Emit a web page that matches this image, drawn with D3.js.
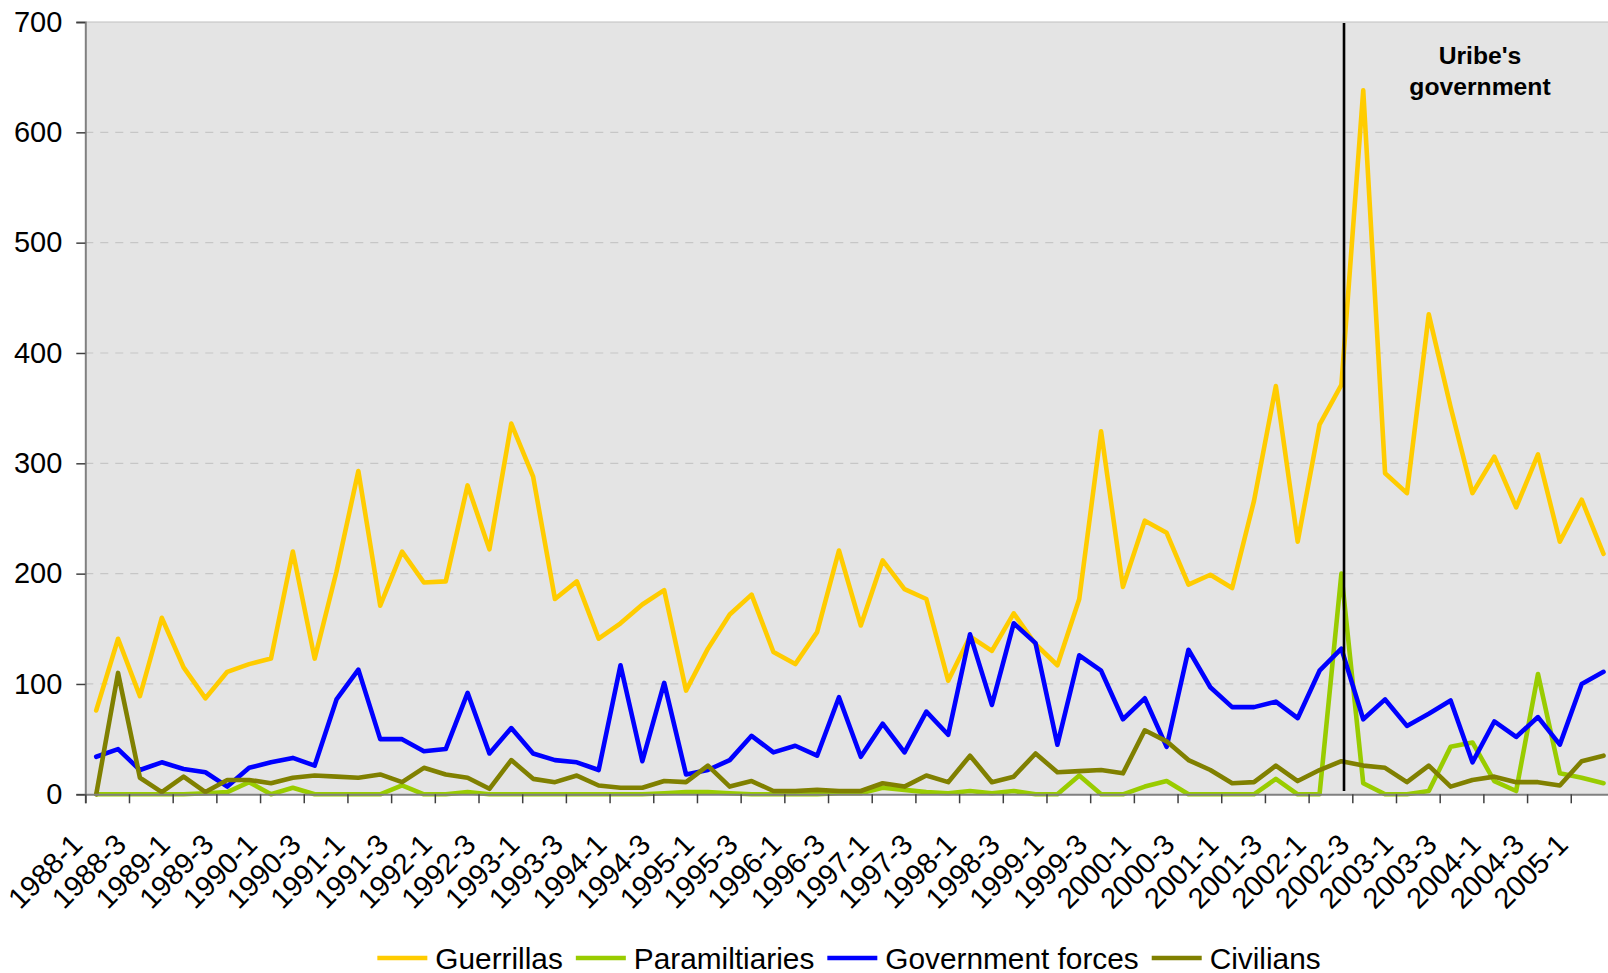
<!DOCTYPE html>
<html>
<head>
<meta charset="utf-8">
<script src="https://cdn.jsdelivr.net/npm/d3@7/dist/d3.min.js"></script>
<style>
  html, body { margin: 0; padding: 0; background: #ffffff; }
  svg { display: block; font-family: "Liberation Sans", Arial, sans-serif; }
</style>
</head>
<body>
<svg id="chart" width="1608" height="973"></svg>
<script>
// Quarterly casualties by actor, Colombia 1988-2005
const quarters = [
  "1988-1","1988-2","1988-3","1988-4","1989-1","1989-2","1989-3","1989-4",
  "1990-1","1990-2","1990-3","1990-4","1991-1","1991-2","1991-3","1991-4",
  "1992-1","1992-2","1992-3","1992-4","1993-1","1993-2","1993-3","1993-4",
  "1994-1","1994-2","1994-3","1994-4","1995-1","1995-2","1995-3","1995-4",
  "1996-1","1996-2","1996-3","1996-4","1997-1","1997-2","1997-3","1997-4",
  "1998-1","1998-2","1998-3","1998-4","1999-1","1999-2","1999-3","1999-4",
  "2000-1","2000-2","2000-3","2000-4","2001-1","2001-2","2001-3","2001-4",
  "2002-1","2002-2","2002-3","2002-4","2003-1","2003-2","2003-3","2003-4",
  "2004-1","2004-2","2004-3","2004-4","2005-1","2005-2"
];

const guerrillas = [
  76,141,89,160,115,87,111,118,123,220,123,202,293,171,220,192,193,280,
  222,336,288,177,193,141,155,172,185,94,132,163,181,129,118,147,221,153,
  212,186,177,103,143,130,164,136,117,177,329,188,248,237,190,199,187,266,
  370,229,335,371,638,291,273,435,351,273,306,260,308,229,267,218
];
const paramilitaries = [
  0,0,0,0,0,1,2,11,0,6,0,0,0,0,8,0,0,2,
  0,0,0,0,0,0,0,0,1,2,2,1,0,0,0,0,1,1,
  6,4,2,1,3,1,3,0,0,17,0,0,7,12,0,0,0,0,
  14,0,0,200,10,0,0,3,43,47,12,3,109,19,15,10
];
const governmentForces = [
  34,41,22,29,23,20,7,24,29,33,26,86,113,50,50,39,41,92,
  37,60,37,31,29,22,117,30,101,18,22,31,53,38,44,35,88,34,
  64,38,75,54,145,81,155,137,45,126,112,68,87,43,131,97,79,79,
  84,69,112,132,68,86,62,73,85,29,66,52,70,45,100,111
];
const civilians = [
  0,110,15,2,16,2,13,13,10,15,17,16,15,18,11,24,18,15,
  5,31,14,11,17,8,6,6,12,11,26,7,12,3,3,4,3,3,
  10,7,17,11,35,11,16,37,20,21,22,19,58,48,31,22,10,11,
  26,12,22,30,26,24,11,26,7,13,16,11,11,8,30,35
];

const yTicks = [0, 100, 200, 300, 400, 500, 600, 700];
const seriesNames = ["Guerrillas", "Paramiltiaries", "Government forces", "Civilians"];
const seriesColors = ["#FFCC00", "#99CC00", "#0000FF", "#808000"];
const seriesValues = [guerrillas, paramilitaries, governmentForces, civilians];

// Start of Uribe's term
const uribeStartQuarter = "2002-2";
const annotation = ["Uribe's", "government"];

const svg = d3.select("#chart");
const margin = { left: 85.3, top: 22, bottom: 794.3 };
const step = 21.845;
const plotRight = margin.left + quarters.length * step;

const x = d3.scalePoint().domain(quarters).range([margin.left, plotRight]).padding(0.5);
const xEdge = d3.scaleLinear().domain([0, quarters.length]).range([margin.left, plotRight]);
const y = d3.scaleLinear().domain([0, 700]).range([margin.bottom, margin.top]);

const FONT = "Liberation Sans, Arial, sans-serif";

// plot background
svg.append("rect")
  .attr("x", margin.left).attr("y", margin.top)
  .attr("width", plotRight - margin.left).attr("height", margin.bottom - margin.top)
  .attr("fill", "#E4E4E4");

// horizontal dashed grid
svg.append("g")
  .selectAll("line")
  .data(yTicks.filter(d => d > 0 && d < 700))
  .join("line")
  .attr("x1", margin.left).attr("x2", plotRight)
  .attr("y1", d => y(d)).attr("y2", d => y(d))
  .attr("stroke", "#C6C6C6").attr("stroke-width", 1.2)
  .attr("stroke-dasharray", "8,7");

// top border of the plot area
svg.append("line")
  .attr("x1", margin.left).attr("x2", plotRight)
  .attr("y1", y(700)).attr("y2", y(700))
  .attr("stroke", "#C0C0C0").attr("stroke-width", 1.2);

// series lines
const line = d3.line()
  .x((d, i) => x(quarters[i]))
  .y(d => y(d));

svg.append("g")
  .selectAll("path")
  .data(seriesValues)
  .join("path")
  .attr("d", d => line(d))
  .attr("fill", "none")
  .attr("stroke", (d, i) => seriesColors[i])
  .attr("stroke-width", 4.6)
  .attr("stroke-linejoin", "round")
  .attr("stroke-linecap", "round");

// vertical marker for the change of government
const uribeX = x(uribeStartQuarter) + 0.12 * step;
svg.append("line")
  .attr("x1", uribeX).attr("x2", uribeX)
  .attr("y1", y(700) + 1).attr("y2", y(3))
  .attr("stroke", "#000000").attr("stroke-width", 2.6);

svg.append("text")
  .attr("x", 1480).attr("y", 64)
  .attr("text-anchor", "middle")
  .attr("font-family", FONT).attr("font-weight", "bold").attr("font-size", 24.7)
  .attr("fill", "#000")
  .selectAll("tspan")
  .data(annotation)
  .join("tspan")
  .attr("x", 1480)
  .attr("dy", (d, i) => i === 0 ? 0 : 31)
  .text(d => d);

// y axis
const yAxis = svg.append("g")
  .attr("transform", `translate(${margin.left},0)`)
  .call(d3.axisLeft(y).tickValues(yTicks).tickSize(9).tickPadding(14).tickFormat(d3.format("d")));
yAxis.select(".domain").attr("stroke", "#808080").attr("stroke-width", 2);
yAxis.selectAll(".tick line").attr("stroke", "#404040").attr("stroke-width", 1.5);
yAxis.selectAll(".tick text")
  .attr("font-family", FONT).attr("font-size", 29).attr("fill", "#000");

// x axis: tick marks between every second quarter
const xAxis = svg.append("g")
  .attr("transform", `translate(0,${margin.bottom})`)
  .call(d3.axisBottom(xEdge).tickValues(d3.range(0, quarters.length + 1, 2)).tickSize(9).tickFormat(""));
xAxis.select(".domain").attr("stroke", "#808080").attr("stroke-width", 2);
xAxis.selectAll(".tick line").attr("stroke", "#404040").attr("stroke-width", 1.5);

// rotated quarter labels, every second one
svg.append("g")
  .selectAll("text")
  .data(quarters.filter((q, i) => i % 2 === 0))
  .join("text")
  .attr("transform", d => `translate(${x(d) - 12},${margin.bottom + 52}) rotate(-45)`)
  .attr("text-anchor", "end")
  .attr("font-family", FONT).attr("font-size", 29).attr("fill", "#000")
  .text(d => d);

// legend
const legend = svg.append("g");
const items = legend.selectAll("g")
  .data(seriesNames)
  .join("g");
items.append("line")
  .attr("x1", 0).attr("x2", 50).attr("y1", 0).attr("y2", 0)
  .attr("stroke", (d, i) => seriesColors[i]).attr("stroke-width", 4.6);
items.append("text")
  .attr("x", 58).attr("y", 0).attr("dy", "0.36em")
  .attr("font-family", FONT).attr("font-size", 29.8).attr("fill", "#000")
  .text(d => d);
let cx = 0;
const gap = 13;
items.each(function () {
  const g = d3.select(this);
  const w = 58 + g.select("text").node().getComputedTextLength();
  g.attr("transform", `translate(${cx},0)`);
  cx += w + gap;
});
const total = cx - gap;
legend.attr("transform", `translate(${849 - total / 2},958)`);
</script>
</body>
</html>
